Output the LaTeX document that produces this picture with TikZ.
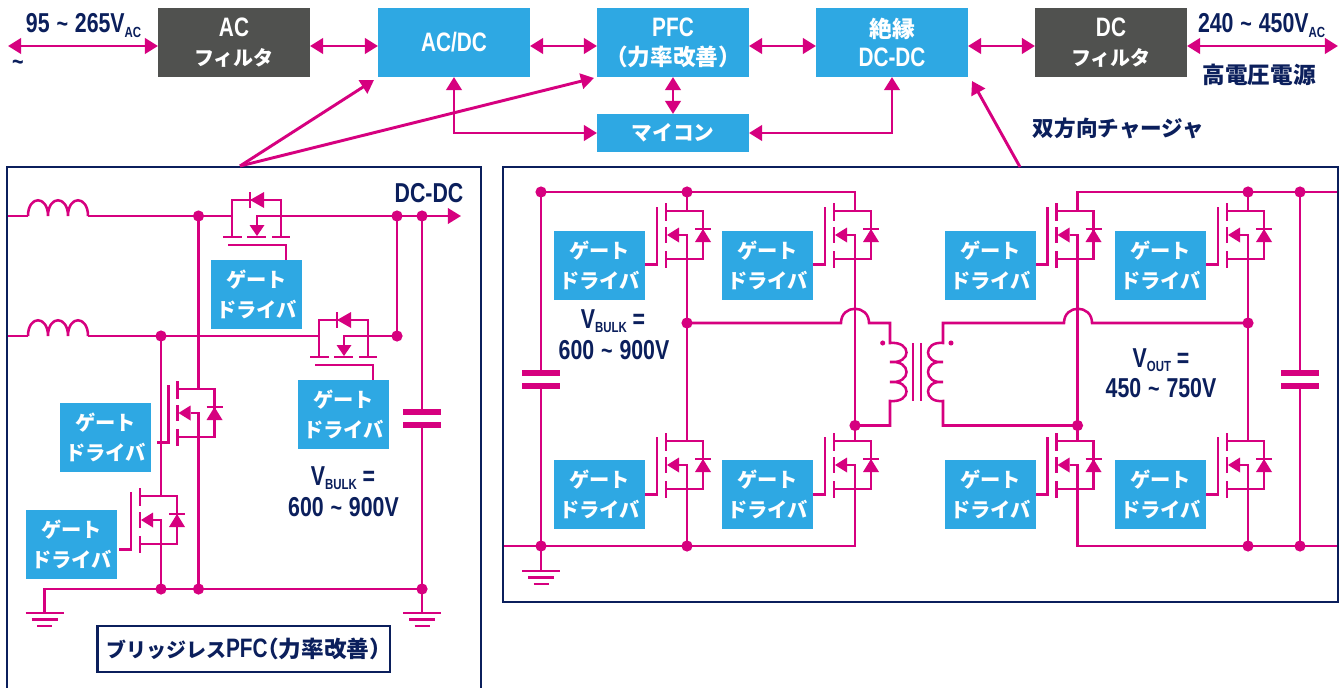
\documentclass[tikz,border=0pt]{standalone}
\usepackage{fontspec}
\usetikzlibrary{arrows.meta}
\newfontfamily\latb[FakeStretch=0.78]{Liberation Sans}
\newfontfamily\cjk{Noto Sans CJK JP}
\definecolor{pinkc}{HTML}{D6007F}
\definecolor{navyc}{HTML}{0B1F5C}
\definecolor{bluec}{HTML}{2EA8E3}
\definecolor{grayc}{HTML}{50514F}
\newcommand\tld{\hspace{0.25em}{\fontsize{19}{19}\selectfont\textasciitilde}\hspace{0.25em}}
\newcommand\subt[1]{\raisebox{-3.4pt}{\fontsize{11}{11}\selectfont #1}}
\newcommand\lt[1]{{\latb\fontsize{20}{21.75}\selectfont #1}}
\newcommand\kanji[1]{\mbox{\cjk\fontsize{17}{21.75}\selectfont #1}}
\newcommand\paren[1]{\mbox{\cjk\fontsize{17}{21.75}\selectfont\kern-.5em（#1）\kern-.5em}}
\tikzset{
  x=0.75pt,y=-0.75pt,
  wire/.style={draw=pinkc,line width=1.9pt,line join=miter},
  flow/.style={draw=pinkc,line width=2.2pt,{Triangle[length=9.8pt,width=11.5pt]}-{Triangle[length=9.8pt,width=11.5pt]}},
  flowto/.style={draw=pinkc,line width=2.2pt,-{Triangle[length=9.8pt,width=11.5pt]}},
  block/.style={fill=bluec,text=white,minimum width=114pt,minimum height=51.75pt,inner sep=0pt,outer sep=0pt,align=center,font=\bfseries\fontsize{15}{21.75}\selectfont},
  filt/.style={block,fill=grayc},
  gatebox/.style={fill=bluec,text=white,minimum width=68.25pt,minimum height=51.75pt,inner sep=0pt,outer sep=0pt,align=center,font=\bfseries\cjk\fontsize{15.2}{22.5}\selectfont},
  lab/.style={text=navyc,inner sep=0pt,outer sep=0pt,font=\bfseries\latb\fontsize{20.5}{20.5}\selectfont},
  jlab/.style={text=navyc,inner sep=0pt,outer sep=0pt,font=\bfseries\cjk\fontsize{16.2}{16.2}\selectfont},
  panel/.style={draw=navyc,line width=2pt},
  dotn/.style={circle,fill=pinkc,minimum size=8.4pt,inner sep=0pt,outer sep=0pt},
  sdot/.style={circle,fill=pinkc,minimum size=3.8pt,inner sep=0pt,outer sep=0pt},
  plate/.style={draw=pinkc,line width=3.8pt},
}
\newcommand\vfet[2]{\begin{scope}[shift={(#1,#2)}]
  \draw[wire] (-30,-4)--(-30,53.5)--(-42,53.5);
  \draw[wire] (-21,-8)--(-21,10) (-21,16)--(-21,32) (-21,40)--(-21,57);
  \draw[wire] (-21,0)--(16,0)--(16,48)--(-21,48);
  \draw[wire] (8,18)--(24,18);
  \fill[pinkc] (16,18)--(8,31)--(24,31)--cycle;
  \fill[pinkc] (-20,24)--(-8,16.5)--(-8,31.5)--cycle;
  \draw[wire] (-8,24)--(0,24)--(0,48);
\end{scope}}
\newcommand\hfet[2]{\begin{scope}[shift={(#1,#2)}]
  \draw[wire] (-25,21)--(-25,-16)--(24,-16)--(24,21);
  \draw[wire] (-34,21)--(-15,21) (-10,21)--(9,21) (15,21)--(33,21);
  \draw[wire] (-29,29)--(29,29)--(29,44);
  \draw[wire] (24,0)--(0,0)--(0,9);
  \fill[pinkc] (0,20)--(-7.5,9)--(7.5,9)--cycle;
  \draw[wire] (-7,-24)--(-7,-8);
  \fill[pinkc] (-7,-16)--(7,-24)--(7,-8)--cycle;
\end{scope}}
\newcommand\inductor[2]{\draw[wire,shift={(#1,#2)}] (0,0) .. controls (0,-21) and (20,-21) .. (20,0) .. controls (20,-21) and (40,-21) .. (40,0) .. controls (40,-21) and (60,-21) .. (60,0);}
\newcommand\gnd[2]{\begin{scope}[shift={(#1,#2)}]
  \draw[wire] (-19,0)--(19,0);
  \draw[wire] (-13,6.5)--(13,6.5);
  \draw[wire] (-7.5,13)--(7.5,13);
\end{scope}}
\begin{document}
\begin{tikzpicture}
\useasboundingbox (0,0) rectangle (1344,688);
\fill[white] (0,0) rectangle (1344,688);
% top row
\node[filt]  (acf)  at (234,42.5) {\lt{AC}\\\cjk フィルタ};
\node[block] (acdc) at (454,42.5) {\lt{AC/DC}};
\node[block] (pfc)  at (673,42.5) {\lt{PFC}\\\paren{力率改善}};
\node[block] (iso)  at (892,42.5) {\kanji{絶縁}\\\lt{DC-DC}};
\node[filt]  (dcf)  at (1111,42.5) {\lt{DC}\\\cjk フィルタ};
\node[block,minimum height=28.5pt] (mcu) at (673,133) {\cjk\fontsize{15.5}{15.5}\selectfont マイコン};
\coordinate (acin) at (8,46);
\coordinate (hv) at (1338,46);
\draw[flow] (acin) -- (acin -| acf.west);
\draw[flow] (acf.east |- acin) -- (acdc.west |- acin);
\draw[flow] (acdc.east |- acin) -- (pfc.west |- acin);
\draw[flow] (pfc.east |- acin) -- (iso.west |- acin);
\draw[flow] (iso.east |- acin) -- (dcf.west |- acin);
\draw[flow] (dcf.east |- acin) -- (hv);
\draw[flow] (pfc.south) -- (mcu.north);
\draw[flow] (acdc.south) |- (mcu.west);
\draw[flow] (iso.south) |- (mcu.east);
% top labels
\node[lab,anchor=base west] (l1) at (26,33) {95\tld 265V\subt{AC}};
\node[lab,anchor=base west] (l2) at (1198,33) {240\tld 450V\subt{AC}};
\node[lab] (l3) at (18,65) {\fontsize{19}{19}\selectfont\textasciitilde};
\node[jlab,anchor=center,font=\bfseries\cjk\fontsize{17}{17}\selectfont] (l4) at (1259,75) {高電圧電源};
\node[jlab] (l5) at (1118.5,128) {双方向チャージャ};
% panels
\draw[panel] (7,688)--(7,167)--(481,167)--(481,688);
\draw[panel] (503,167) rectangle (1338,602);
\coordinate (pa) at (240,166);
\coordinate (pb) at (1020,167);
\coordinate (ta1) at (374,80);
\coordinate (ta2) at (594,78);
\coordinate (ta3) at (972,81);
\draw[flowto] (pa) -- (ta1);
\draw[flowto] (pa) -- (ta2);
\draw[flowto] (pb) -- (ta3);
% ---- left circuit
\draw[wire] (8,216)--(28,216); \inductor{28}{216}
\draw[wire] (88,216)--(232,216);
\draw[wire] (8,336)--(28,336); \inductor{28}{336}
\draw[wire] (88,336)--(319,336);
\hfet{257}{216}
\hfet{344}{336}
\coordinate (dcout) at (461,216);
\draw[wire,-{Triangle[length=9.8pt,width=11.5pt]}] (281,216) -- (dcout);
\draw[wire] (368,336)--(397,336)--(397,216);
\draw[wire] (198.5,216)--(198.5,389);
\draw[wire] (198.5,437)--(198.5,589);
\draw[wire] (161,336)--(161,496);
\draw[wire] (161,544)--(161,589);
\vfet{198.5}{389}
\vfet{161}{496}
\draw[wire] (422,216)--(422,412);
\draw[plate] (403,412)--(441,412);
\draw[plate] (403,425)--(441,425);
\draw[wire] (422,425)--(422,613);
\draw[wire] (44.5,613)--(44.5,589)--(422,589);
\gnd{44.5}{613}
\gnd{422}{613}
\foreach \p in {(198.5,216),(397,216),(422,216),(161,336),(397,336),(161,589),(198.5,589),(422,589)} \node[dotn] at \p {};
\node[gatebox] (g1) at (256.5,294.5) {ゲート\\ドライバ};
\node[gatebox] (g2) at (343.5,414.5) {ゲート\\ドライバ};
\node[gatebox] (g3) at (105.5,437.5) {ゲート\\ドライバ};
\node[gatebox] (g4) at (71.5,544.5) {ゲート\\ドライバ};
\node[lab,anchor=base] (l6) at (343,485) {V\subt{BULK} =};
\node[lab,anchor=base] (l7) at (343.5,516) {600\tld 900V};
\node[lab,anchor=base] (l8) at (613,328) {V\subt{BULK} =};
\node[lab,anchor=base] (l9) at (614,359) {600\tld 900V};
\node[lab,anchor=base] (l10) at (1161,367) {V\subt{OUT} =};
\node[lab,anchor=base] (l11) at (1161,397) {450\tld 750V};
\node[lab,anchor=base] (l12) at (429,202) {DC-DC};
\node[draw=navyc,line width=2pt,minimum width=219.5pt,minimum height=34.5pt,inner sep=0pt,text=navyc,font=\bfseries\cjk\fontsize{15}{15}\selectfont] (l13) at (243.5,649) {ブリッジレス\lt{PFC}\paren{力率改善}};
% ---- right circuit
\draw[wire] (541,192)--(855,192)--(855,211);
\draw[wire] (687,192)--(687,211);
\draw[wire] (1077.5,211)--(1077.5,192)--(1337,192);
\draw[wire] (1248,192)--(1248,211);
\draw[wire] (504,546)--(855,546)--(855,489);
\draw[wire] (687,546)--(687,489);
\draw[wire] (1337,546)--(1077.5,546)--(1077.5,489);
\draw[wire] (1248,546)--(1248,489);
\draw[wire] (687,259)--(687,441);
\draw[wire] (855,259)--(855,441);
\draw[wire] (1077.5,259)--(1077.5,441);
\draw[wire] (1248,259)--(1248,441);
\vfet{687}{211} \vfet{855}{211} \vfet{1077.5}{211} \vfet{1248}{211}
\vfet{687}{441} \vfet{855}{441} \vfet{1077.5}{441} \vfet{1248}{441}
% capacitors
\draw[wire] (541,192)--(541,373); \draw[wire] (541,386)--(541,571);
\draw[plate] (522,373)--(560,373); \draw[plate] (522,386)--(560,386);
\gnd{541}{571}
\draw[wire] (1300,192)--(1300,373); \draw[wire] (1300,386)--(1300,546);
\draw[plate] (1281,373)--(1319,373); \draw[plate] (1281,386)--(1319,386);
% transformer
\draw[wire] (687,323)--(841,323) .. controls (841,304) and (869,304) .. (869,323) -- (890,323)--(890,343)
  .. controls (912,341) and (912,364) .. (890,362)
  .. controls (912,360) and (912,384) .. (890,382)
  .. controls (912,380) and (912,403) .. (890,401)
  -- (890,425.5) -- (855,425.5);
\draw[wire] (1248,323)--(1092,323) .. controls (1092,304) and (1064,304) .. (1064,323) -- (943,323)--(943,343)
  .. controls (923,341) and (923,364) .. (943,362)
  .. controls (923,360) and (923,384) .. (943,382)
  .. controls (923,380) and (923,403) .. (943,401)
  -- (943,425.5) -- (1077.5,425.5);
\draw[wire] (913,343)--(913,401);
\draw[wire] (921,343)--(921,401);
\node[sdot] at (882.7,343) {};
\node[sdot] at (951,343) {};
\foreach \p in {(541,192),(687,192),(1248,192),(1300,192),(687,323),(1248,323),(855,425.5),(1077.5,425.5),(541,546),(687,546),(1248,546),(1300,546)} \node[dotn] at \p {};
\foreach \n/\cx/\cy in {g5/599.5/265,g6/767.5/265,g7/990.5/265,g8/1160.5/265,g9/599.5/494.5,g10/767.5/494.5,g11/990.5/494.5,g12/1160.5/494.5}
  \node[gatebox] (\n) at (\cx,\cy) {ゲート\\ドライバ};
\end{tikzpicture}
\end{document}
